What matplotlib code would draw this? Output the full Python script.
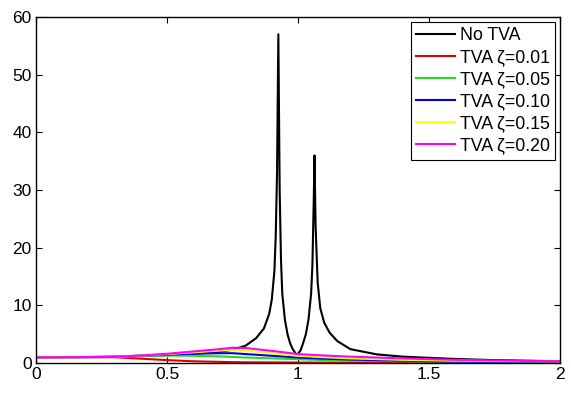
import matplotlib
matplotlib.use("Agg")
import matplotlib.pyplot as plt

plt.rcParams['font.family'] = ['Liberation Sans', 'DejaVu Sans']

# No TVA response
x_no = [0, 0.1, 0.2, 0.3, 0.4, 0.5, 0.6, 0.7, 0.75, 0.8, 0.84, 0.87, 0.89, 0.90, 0.91,
        0.915, 0.92, 0.925, 0.93, 0.935, 0.94, 0.95, 0.96, 0.97, 0.98, 0.99, 0.997,
        1.01, 1.02, 1.03, 1.04, 1.05, 1.055, 1.06, 1.063, 1.067, 1.075, 1.085, 1.1,
        1.12, 1.15, 1.2, 1.3, 1.4, 1.5, 1.6, 1.75, 1.9, 2.0]
y_no = [1.0, 1.01, 1.04, 1.1, 1.2, 1.35, 1.6, 1.95, 2.3, 3.0, 4.3, 6.0, 8.5, 11, 16,
        22, 33, 57, 30, 18, 12, 7.5, 5.0, 3.4, 2.4, 1.7, 1.4,
        2.2, 3.5, 5.0, 7.5, 12, 17, 28, 36, 24, 14, 9.5, 7.0,
        5.3, 3.8, 2.4, 1.5, 1.1, 0.9, 0.7, 0.5, 0.38, 0.3]

# TVA responses
x_tva = [0, 0.3, 0.4, 0.5, 0.6, 0.7, 0.75, 0.8, 0.9, 1.0, 1.1, 1.2, 1.4, 1.6, 1.8, 2.0]
y_z01 = [1.0, 1.0, 0.75, 0.5, 0.3, 0.2, 0.15, 0.12, 0.1, 0.08, 0.07, 0.06, 0.05, 0.04, 0.03, 0.03]
y_z05 = [1.0, 1.05, 1.2, 1.3, 1.25, 1.15, 1.05, 0.95, 0.8, 0.65, 0.5, 0.4, 0.3, 0.2, 0.15, 0.1]
y_z10 = [1.0, 1.05, 1.3, 1.45, 1.6, 1.7, 1.7, 1.55, 1.25, 0.95, 0.75, 0.6, 0.4, 0.25, 0.2, 0.15]
y_z15 = [1.0, 1.05, 1.3, 1.55, 1.85, 2.15, 2.25, 2.15, 1.7, 1.25, 1.0, 0.8, 0.55, 0.4, 0.3, 0.25]
y_z20 = [1.0, 1.05, 1.3, 1.6, 2.0, 2.4, 2.65, 2.6, 2.1, 1.55, 1.3, 1.1, 0.8, 0.55, 0.4, 0.3]

labels = ['No TVA', 'TVA ζ=0.01', 'TVA ζ=0.05', 'TVA ζ=0.10', 'TVA ζ=0.15', 'TVA ζ=0.20']
colors = ['black', '#e00000', '#22dd22', '#0000ee', '#ffff00', '#ff00ff']

xticks = [0, 0.5, 1, 1.5, 2]
xticklabels = ['0', '0.5', '1', '1.5', '2']
yticks = [0, 10, 20, 30, 40, 50, 60]

fig = plt.figure(figsize=(5.71, 3.94), dpi=100)
ax = fig.add_axes([36/571, 31/394, 524/571, 346/394])

ax.plot(x_no, y_no, color=colors[0], lw=1.5, label=labels[0])
for yv, c, lab in zip([y_z01, y_z05, y_z10, y_z15, y_z20], colors[1:], labels[1:]):
    ax.plot(x_tva, yv, color=c, lw=1.5, label=lab)

ax.set_xlim(0, 2)
ax.set_ylim(0, 60)
ax.set_xticks(xticks)
ax.set_xticklabels(xticklabels)
ax.set_yticks(yticks)
ax.tick_params(direction='in', top=True, right=True, length=4, width=0.8,
               labelsize=12.5, colors='black', pad=3)
for s in ax.spines.values():
    s.set_linewidth(1.0)
    s.set_color('black')

leg = ax.legend(loc='upper right', bbox_to_anchor=(555/571, (394-22)/394),
                bbox_transform=fig.transFigure, borderaxespad=0, fancybox=False,
                edgecolor='black', fontsize=12.8, handlelength=2.2, handletextpad=0.25,
                labelspacing=0.28, borderpad=0.3, framealpha=1)
leg.get_frame().set_linewidth(0.8)

fig.savefig('out.png', dpi=100)
